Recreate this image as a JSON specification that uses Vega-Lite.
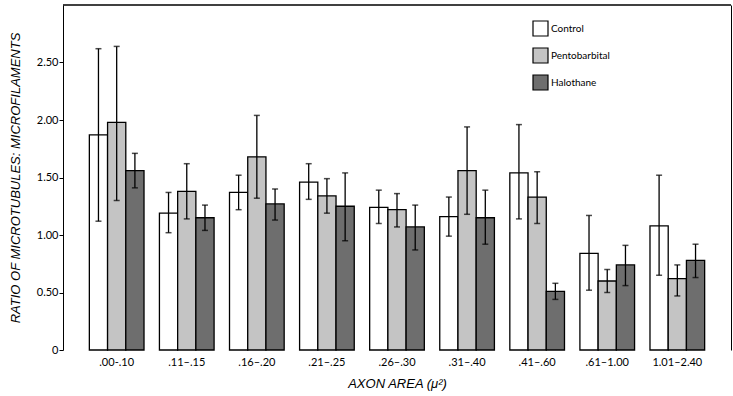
{
  "$schema": "https://vega.github.io/schema/vega-lite/v6.json",
  "width": 668,
  "height": 345,
  "autosize": {"type": "none"},
  "padding": {"left": 63, "top": 5, "right": 2, "bottom": 46},
  "background": "white",
  "config": {
    "view": {"stroke": null},
    "font": "Lato",
    "axis": {"labelColor": "black", "titleColor": "black", "domainColor": "black", "tickColor": "black", "grid": false}
  },
  "data": {
    "values": [
      {"g": ".00-.10", "t": "Control", "m": 1.87, "lo": 1.12, "hi": 2.62},
      {"g": ".00-.10", "t": "Pentobarbital", "m": 1.98, "lo": 1.30, "hi": 2.64},
      {"g": ".00-.10", "t": "Halothane", "m": 1.56, "lo": 1.41, "hi": 1.71},
      {"g": ".11–.15", "t": "Control", "m": 1.19, "lo": 1.02, "hi": 1.37},
      {"g": ".11–.15", "t": "Pentobarbital", "m": 1.38, "lo": 1.14, "hi": 1.62},
      {"g": ".11–.15", "t": "Halothane", "m": 1.15, "lo": 1.04, "hi": 1.26},
      {"g": ".16–.20", "t": "Control", "m": 1.37, "lo": 1.22, "hi": 1.52},
      {"g": ".16–.20", "t": "Pentobarbital", "m": 1.68, "lo": 1.32, "hi": 2.04},
      {"g": ".16–.20", "t": "Halothane", "m": 1.27, "lo": 1.13, "hi": 1.40},
      {"g": ".21–.25", "t": "Control", "m": 1.46, "lo": 1.31, "hi": 1.62},
      {"g": ".21–.25", "t": "Pentobarbital", "m": 1.34, "lo": 1.19, "hi": 1.49},
      {"g": ".21–.25", "t": "Halothane", "m": 1.25, "lo": 0.95, "hi": 1.54},
      {"g": ".26–.30", "t": "Control", "m": 1.24, "lo": 1.10, "hi": 1.39},
      {"g": ".26–.30", "t": "Pentobarbital", "m": 1.22, "lo": 1.07, "hi": 1.36},
      {"g": ".26–.30", "t": "Halothane", "m": 1.07, "lo": 0.87, "hi": 1.26},
      {"g": ".31–.40", "t": "Control", "m": 1.16, "lo": 0.99, "hi": 1.33},
      {"g": ".31–.40", "t": "Pentobarbital", "m": 1.56, "lo": 1.18, "hi": 1.94},
      {"g": ".31–.40", "t": "Halothane", "m": 1.15, "lo": 0.92, "hi": 1.39},
      {"g": ".41–.60", "t": "Control", "m": 1.54, "lo": 1.14, "hi": 1.96},
      {"g": ".41–.60", "t": "Pentobarbital", "m": 1.33, "lo": 1.10, "hi": 1.55},
      {"g": ".41–.60", "t": "Halothane", "m": 0.51, "lo": 0.44, "hi": 0.58},
      {"g": ".61–1.00", "t": "Control", "m": 0.84, "lo": 0.52, "hi": 1.17},
      {"g": ".61–1.00", "t": "Pentobarbital", "m": 0.60, "lo": 0.50, "hi": 0.70},
      {"g": ".61–1.00", "t": "Halothane", "m": 0.74, "lo": 0.56, "hi": 0.91},
      {"g": "1.01–2.40", "t": "Control", "m": 1.08, "lo": 0.65, "hi": 1.52},
      {"g": "1.01–2.40", "t": "Pentobarbital", "m": 0.62, "lo": 0.47, "hi": 0.74},
      {"g": "1.01–2.40", "t": "Halothane", "m": 0.78, "lo": 0.63, "hi": 0.92}
    ]
  },
  "resolve": {"axis": {"y": "independent"}},
  "layer": [
    {
      "layer": [
        {
          "mark": {"type": "bar", "stroke": "black", "strokeWidth": 1.3},
          "encoding": {
            "fill": {"field": "t", "type": "nominal",
              "scale": {"domain": ["Control", "Pentobarbital", "Halothane"], "range": ["#ffffff", "#c4c4c4", "#6e6e6e"]},
              "legend": {"title": null, "orient": "none", "legendX": 469, "legendY": 15, "symbolType": "square", "symbolSize": 225,
                "symbolStrokeColor": "black", "symbolStrokeWidth": 1.2, "labelFontSize": 10, "labelFont": "Lato", "labelColor": "black", "labelOffset": 2, "rowPadding": 6}},
            "y": {"field": "m", "type": "quantitative",
              "scale": {"domain": [0, 3], "nice": false},
              "axis": {"title": "RATIO OF MICROTUBULES: MICROFILAMENTS", "titleFont": "Liberation Sans", "titleFontStyle": "italic", "titleFontWeight": "normal", "titleFontSize": 13, "titlePadding": 14,
                "values": [0, 0.5, 1, 1.5, 2, 2.5], "labelExpr": "datum.value == 0 ? '0' : format(datum.value, '.2f')", "labelFontSize": 11, "labelPadding": 1, "tickSize": 4}}
          }
        },
        {
          "mark": {"type": "rule", "color": "black", "strokeWidth": 1.3},
          "encoding": {"y": {"field": "lo", "type": "quantitative"}, "y2": {"field": "hi"}}
        },
        {
          "mark": {"type": "tick", "color": "black", "thickness": 1.5, "size": 6},
          "encoding": {"y": {"field": "hi", "type": "quantitative"}}
        },
        {
          "mark": {"type": "tick", "color": "black", "thickness": 1.5, "size": 6},
          "encoding": {"y": {"field": "lo", "type": "quantitative"}}
        }
      ],
      "encoding": {
        "x": {"field": "g", "type": "nominal", "sort": null,
          "scale": {"paddingInner": 0.22, "paddingOuter": 0.376},
          "axis": {"title": "AXON AREA (μ²)", "titleFont": "Liberation Sans", "titleFontStyle": "italic", "titleFontWeight": "normal", "titleFontSize": 13, "titlePadding": 10,
            "labelAngle": 0, "labelFontSize": 11, "ticks": false, "domain": false, "labelPadding": 6}},
        "xOffset": {"field": "t", "type": "nominal", "sort": ["Control", "Pentobarbital", "Halothane"],
          "scale": {"domain": ["Control", "Pentobarbital", "Halothane"], "paddingInner": 0, "paddingOuter": 0}}
      }
    },
    {
      "data": {"values": [{"top": 3}]},
      "mark": {"type": "rule", "color": "black", "strokeWidth": 1.5},
      "encoding": {
        "y": {"field": "top", "type": "quantitative",
          "axis": {"orient": "right", "labels": false, "ticks": false, "title": null, "domain": true}}
      }
    }
  ]
}
